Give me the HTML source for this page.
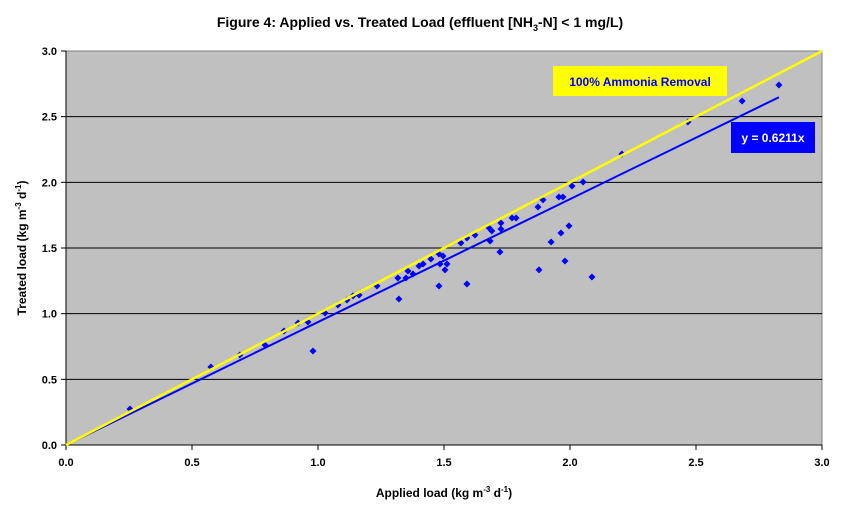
<!DOCTYPE html>
<html><head><meta charset="utf-8"><style>
body{margin:0;background:#fff;}
svg text{font-family:"Liberation Sans",Arial,sans-serif;font-weight:bold;}
</style></head><body>
<svg id="chart" width="841" height="511" viewBox="0 0 841 511">
<text x="420" y="27" text-anchor="middle" font-size="14">Figure 4: Applied vs. Treated Load (effluent [NH<tspan font-size="9" dy="4">3</tspan><tspan dy="-4">-N] &lt; 1 mg/L)</tspan></text>
<rect x="66" y="51" width="756" height="394" fill="#c0c0c0" stroke="#808080"/>
<g id="grid"></g><g id="axes"></g><g id="pts"></g><g id="lines"></g>
<rect x="553" y="66" width="174" height="30" fill="#ffff00"/>
<text x="640" y="86" text-anchor="middle" font-size="12" fill="#0000ff">100% Ammonia Removal</text>
<rect x="731" y="122" width="84" height="31" fill="#0000ff"/>
<text x="773" y="142" text-anchor="middle" font-size="12" fill="#fff">y = 0.6211x</text>
<text x="444" y="497" text-anchor="middle" font-size="12">Applied load (kg m<tspan font-size="8" dy="-5">-3</tspan><tspan dy="5"> d</tspan><tspan font-size="8" dy="-5">-1</tspan><tspan dy="5">)</tspan></text>
<text transform="translate(26,248) rotate(-90)" text-anchor="middle" font-size="12">Treated load (kg m<tspan font-size="8" dy="-5">-3</tspan><tspan dy="5"> d</tspan><tspan font-size="8" dy="-5">-1</tspan><tspan dy="5">)</tspan></text>
</svg>
<script>
const xVals=[.254,.575,.690,.790,.865,.921,.960,.980,1.028,1.079,1.115,1.139,1.163,1.234,1.321,1.317,1.349,1.357,1.377,1.401,1.417,1.448,1.480,1.496,1.484,1.512,1.504,1.480,1.591,1.567,1.591,1.623,1.679,1.690,1.726,1.726,1.683,1.722,1.770,1.786,1.873,1.893,1.956,1.972,2.008,2.052,1.925,1.964,1.996,1.877,1.980,2.087,2.206,2.468,2.683,2.829];
const yVals=[.274,.594,.685,.761,.868,.929,.937,.716,1.005,1.066,1.104,1.135,1.142,1.211,1.112,1.272,1.272,1.325,1.302,1.363,1.378,1.416,1.454,1.439,1.378,1.378,1.333,1.211,1.226,1.538,1.576,1.599,1.652,1.629,1.690,1.645,1.553,1.470,1.728,1.728,1.812,1.866,1.888,1.888,1.972,2.003,1.546,1.614,1.668,1.333,1.401,1.279,2.216,2.459,2.619,2.741];
const xTicks=["0.0","0.5","1.0","1.5","2.0","2.5","3.0"];
const yTicks=["0.0","0.5","1.0","1.5","2.0","2.5","3.0"];
const fitSlope=[0.936];
const NS="http://www.w3.org/2000/svg";
const X=v=>66+v/3*756, Y=v=>445-v/3*394;
function mk(p,t,a){const e=document.createElementNS(NS,t);for(const k in a)e.setAttribute(k,a[k]);document.getElementById(p).appendChild(e);return e;}
yTicks.forEach(t=>{const v=+t,y=Y(v);
 if(v>0&&v<3){const g=mk('grid','line',{x1:66,x2:822,y1:y,y2:y,stroke:'#000'});
 
 }
 mk('axes','line',{x1:61,x2:66,y1:y,y2:y,stroke:'#000'});
 const l=mk('axes','text',{x:57,y:y+4,'text-anchor':'end','font-size':11});l.textContent=t;
 
 });
xTicks.forEach(t=>{const x=X(+t);
 mk('axes','line',{x1:x,x2:x,y1:445,y2:450,stroke:'#000'});
 const l=mk('axes','text',{x:x,y:466,'text-anchor':'middle','font-size':11});l.textContent=t;
 
 });
mk('axes','line',{x1:66,x2:66,y1:51,y2:445,stroke:'#000'});
mk('axes','line',{x1:66,x2:822,y1:445,y2:445,stroke:'#000'});
const xmax=Math.max(...xVals);
const fl=mk('lines','line',{x1:X(0),y1:Y(0),x2:X(xmax),y2:Y(xmax*fitSlope[0]),stroke:'#0000ff','stroke-width':2});


const yl=mk('lines','line',{x1:X(0),y1:Y(0),x2:X(3),y2:Y(3),stroke:'#ffff00','stroke-width':2.5});


xVals.forEach((v,i)=>{const cx=X(v),cy=Y(yVals[i]);
 const p=mk('pts','polygon',{points:`${cx},${cy-3.5} ${cx+3.5},${cy} ${cx},${cy+3.5} ${cx-3.5},${cy}`,fill:'#0000ff'});
 
 });
</script>
</body></html>
